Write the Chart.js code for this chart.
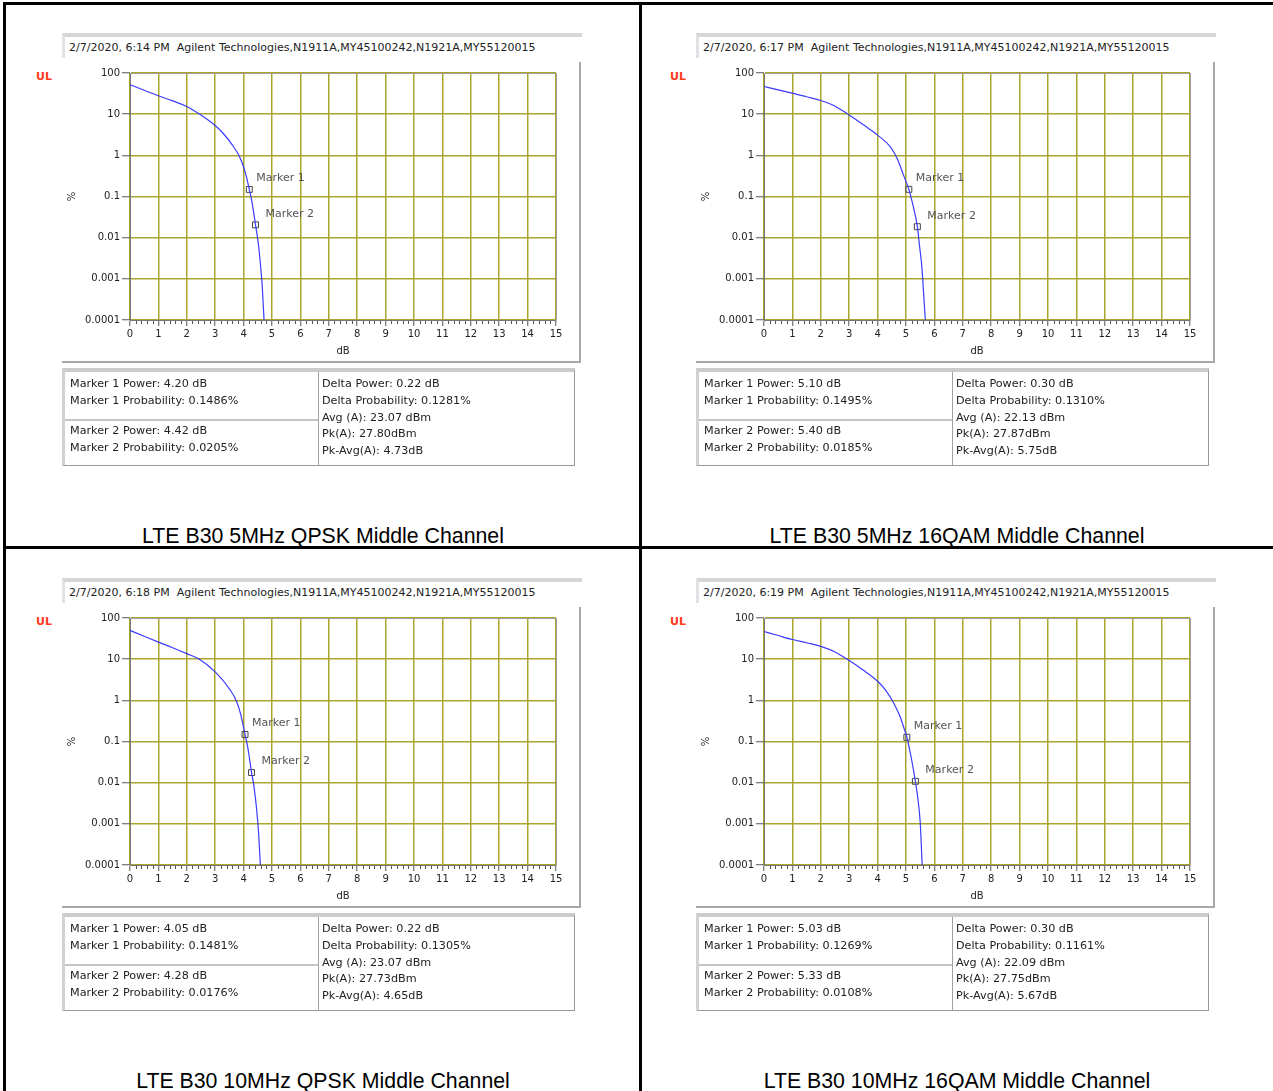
<!DOCTYPE html>
<html>
<head>
<meta charset="utf-8">
<script src="https://cdn.jsdelivr.net/npm/chart.js@4.4.0/dist/chart.umd.min.js"></script>
<style>
  body { margin: 0; width: 1273px; height: 1091px; background: #fff; position: relative; overflow: hidden; font-family: "DejaVu Sans", sans-serif; }
  .bline { position: absolute; background: #000; }
  .panel { position: absolute; width: 634px; height: 545px; }
  .panel > * { position: absolute; }
  .hdr { left: 62px; top: 33px; width: 513px; height: 21px; border-top: 4px solid #d6d6d6; border-left: 3px solid #e2e2e2; font-size: 11px; line-height: 22px; padding-left: 4px; color: #222; white-space: nowrap; }
  .ul { left: 36px; top: 70px; font-weight: bold; font-size: 11px; color: #ff3a1a; }
  .frameR { left: 579px; top: 62px; width: 2px; height: 301px; background: #a8a8a8; }
  .frameB { left: 62px; top: 361px; width: 519px; height: 2px; background: #a8a8a8; }
  .tbl { left: 62px; top: 368px; width: 513px; height: 98px; box-sizing: border-box; border-top: 4px solid #cbcbcb; border-left: 3px solid #d2d2d2; border-right: 1px solid #999; border-bottom: 1px solid #999; }
  .vdiv { left: 318px; top: 372px; width: 1px; height: 93px; background: #a0a0a0; }
  .hdiv { left: 65px; top: 419px; width: 253px; height: 2px; background: #c4c4c4; }
  .txt { font-size: 11.2px; line-height: 17px; color: #222; white-space: nowrap; }
  .cap { left: 0; width: 646px; top: 524px; text-align: center; font-family: "Liberation Sans", Arial, sans-serif; font-size: 21.3px; line-height: 24px; color: #000; }
</style>
</head>
<body>
<div class="bline" style="left:3px;top:2px;width:1270px;height:3px"></div>
<div class="bline" style="left:3px;top:2px;width:3px;height:1089px"></div>
<div class="bline" style="left:639px;top:2px;width:3px;height:1089px"></div>
<div class="bline" style="left:3px;top:546px;width:1270px;height:3px"></div>
<script>
  // Axes
  const xTicks = [0, 1, 2, 3, 4, 5, 6, 7, 8, 9, 10, 11, 12, 13, 14, 15];
  const xMinorStep = 0.2;
  const yTicks = [0.0001, 0.001, 0.01, 0.1, 1, 10, 100];
  const yTickLabels = ['0.0001', '0.001', '0.01', '0.1', '1', '10', '100'];

  // Textos de cada panel
  const captions = ['LTE B30 5MHz QPSK Middle Channel', 'LTE B30 5MHz 16QAM Middle Channel',
                    'LTE B30 10MHz QPSK Middle Channel', 'LTE B30 10MHz 16QAM Middle Channel'];
  const headerTimes = ['6:14 PM', '6:17 PM', '6:18 PM', '6:19 PM'];

  // Curvas CCDF (dB, %)
  const qpsk5Db  = [0, 0.5, 1, 1.5, 2, 2.5, 3, 3.3, 3.6, 3.85, 4.0, 4.1, 4.2, 4.3, 4.42, 4.52, 4.6, 4.66, 4.72];
  const qpsk5Pct = [52, 38, 28, 21, 15.4, 9.5, 5.3, 3.3, 1.8, 0.95, 0.52, 0.3, 0.1486, 0.07, 0.0205, 0.007, 0.002, 0.0006, 0.0001];
  const qam5Db   = [0, 0.5, 1, 1.5, 2, 2.4, 2.7, 3, 3.5, 4, 4.45, 4.7, 4.9, 5.0, 5.1, 5.25, 5.4, 5.48, 5.56, 5.62, 5.68];
  const qam5Pct  = [47, 39, 32.5, 26.5, 21.5, 17, 13, 9.5, 5.5, 3.1, 1.6, 0.8, 0.35, 0.23, 0.1495, 0.06, 0.0185, 0.006, 0.0019, 0.00045, 0.0001];
  const qpsk10Db  = [0, 0.5, 1, 1.5, 2, 2.44, 3, 3.5, 3.75, 3.9, 4.05, 4.15, 4.28, 4.35, 4.45, 4.53, 4.59];
  const qpsk10Pct = [50, 36, 26, 19, 13.6, 10, 4.9, 1.9, 0.95, 0.45, 0.1481, 0.07, 0.0176, 0.0095, 0.0026, 0.00057, 0.0001];
  const qam10Db  = [0, 0.5, 1, 1.5, 2, 2.5, 3, 3.5, 4, 4.3, 4.57, 4.8, 4.95, 5.03, 5.18, 5.33, 5.42, 5.5, 5.57];
  const qam10Pct = [47, 37.5, 30, 25, 20.5, 15, 9.3, 5.4, 2.9, 1.7, 0.85, 0.39, 0.19, 0.1269, 0.042, 0.0108, 0.004, 0.0011, 0.0001];

  // Marcadores y tabla
  const marker1Db  = [4.20, 5.10, 4.05, 5.03];
  const marker1Pct = [0.1486, 0.1495, 0.1481, 0.1269];
  const marker2Db  = [4.42, 5.40, 4.28, 5.33];
  const marker2Pct = [0.0205, 0.0185, 0.0176, 0.0108];
  const deltaPower = ['0.22', '0.30', '0.22', '0.30'];
  const deltaProb  = ['0.1281', '0.1310', '0.1305', '0.1161'];
  const avgA   = ['23.07', '22.13', '23.07', '22.09'];
  const pkA    = ['27.80', '27.87', '27.73', '27.75'];
  const pkAvgA = ['4.73', '5.75', '4.65', '5.67'];

  const curves = [[qpsk5Db, qpsk5Pct], [qam5Db, qam5Pct], [qpsk10Db, qpsk10Pct], [qam10Db, qam10Pct]];
  const offsets = [[0, 0], [634, 0], [0, 545], [634, 545]];

  const GRID = '#a9a52c';
  const TICK = '#555';

  Chart.defaults.font.family = '"DejaVu Sans", sans-serif';
  Chart.defaults.font.size = 10;
  Chart.defaults.color = '#222';

  // marco gris del área + ticks menores + etiquetas de marcador
  const ccdfExtras = {
    id: 'ccdfExtras',
    beforeDatasetsDraw(chart) {
      const { ctx, chartArea: a, scales: { x } } = chart;
      ctx.save();
      ctx.strokeStyle = '#a0a0a0';
      ctx.lineWidth = 1;
      ctx.beginPath();
      ctx.moveTo(a.left, a.top + 0.5); ctx.lineTo(a.right + 0.5, a.top + 0.5); ctx.lineTo(a.right + 0.5, a.bottom);
      ctx.stroke();
      ctx.strokeStyle = TICK;
      ctx.beginPath();
      for (let i = 1; i < 75; i++) {
        if (i % 5 === 0) continue;
        const px = Math.round(x.getPixelForValue(i * xMinorStep)) + 0.5;
        ctx.moveTo(px, a.bottom + 1); ctx.lineTo(px, a.bottom + 4);
      }
      ctx.stroke();
      ctx.restore();
    },
    afterDatasetsDraw(chart) {
      const { ctx } = chart;
      const meta = chart.getDatasetMeta(1);
      ctx.save();
      ctx.font = '11px "DejaVu Sans"';
      ctx.fillStyle = '#555';
      ctx.textBaseline = 'middle';
      meta.data.forEach((p, i) => {
        ctx.fillText('Marker ' + (i + 1), p.x + (i === 0 ? 7 : 10), p.y - 11);
      });
      ctx.restore();
    }
  };

  curves.forEach(([xs, ys], k) => {
    const [dx, dy] = offsets[k];
    const panel = document.createElement('div');
    panel.className = 'panel';
    panel.style.left = dx + 'px';
    panel.style.top = dy + 'px';
    panel.innerHTML = `
      <div class="hdr">2/7/2020, ${headerTimes[k]}&nbsp; Agilent Technologies,N1911A,MY45100242,N1921A,MY55120015</div>
      <div class="ul">UL</div>
      <canvas width="518" height="300" style="left:62px;top:60px"></canvas>
      <div class="frameR"></div><div class="frameB"></div>
      <div class="tbl"></div><div class="vdiv"></div><div class="hdiv"></div>
      <div class="txt" style="left:70px;top:375px">Marker 1 Power: ${marker1Db[k].toFixed(2)} dB</div>
      <div class="txt" style="left:70px;top:392px">Marker 1 Probability: ${marker1Pct[k].toFixed(4)}%</div>
      <div class="txt" style="left:70px;top:422px">Marker 2 Power: ${marker2Db[k].toFixed(2)} dB</div>
      <div class="txt" style="left:70px;top:439px">Marker 2 Probability: ${marker2Pct[k].toFixed(4)}%</div>
      <div class="txt" style="left:322px;top:375px">Delta Power: ${deltaPower[k]} dB</div>
      <div class="txt" style="left:322px;top:392px">Delta Probability: ${deltaProb[k]}%</div>
      <div class="txt" style="left:322px;top:409px">Avg (A): ${avgA[k]} dBm</div>
      <div class="txt" style="left:322px;top:425px">Pk(A): ${pkA[k]}dBm</div>
      <div class="txt" style="left:322px;top:442px">Pk-Avg(A): ${pkAvgA[k]}dB</div>
      <div class="cap">${captions[k]}</div>`;
    document.body.appendChild(panel);

    new Chart(panel.querySelector('canvas'), {
      type: 'line',
      data: {
        datasets: [{
          data: xs.map((v, i) => ({ x: v, y: ys[i] })),
          borderColor: '#3b3bff',
          borderWidth: 1.2,
          pointRadius: 0,
          cubicInterpolationMode: 'monotone',
          clip: false
        }, {
          data: [{ x: marker1Db[k], y: marker1Pct[k] }, { x: marker2Db[k], y: marker2Pct[k] }],
          showLine: false,
          pointStyle: 'rect',
          pointRadius: 4.2,
          borderWidth: 1,
          borderColor: '#444',
          backgroundColor: 'rgba(0,0,0,0)'
        }]
      },
      options: {
        responsive: false,
        animation: false,
        devicePixelRatio: 1,
        layout: { padding: { top: 13, right: 24, left: 0, bottom: 0 } },
        plugins: { legend: { display: false }, tooltip: { enabled: false } },
        scales: {
          x: {
            type: 'linear', min: 0, max: 15,
            afterBuildTicks: axis => { axis.ticks = xTicks.map(v => ({ value: v })); },
            afterFit: axis => { axis.height = 40; },
            ticks: { autoSkip: false, maxRotation: 0, padding: 2, color: '#222', callback: v => String(v) },
            grid: { color: GRID, lineWidth: 1.5, tickColor: TICK, tickLength: 6, tickWidth: 1 },
            border: { color: '#777', width: 1 },
            title: { display: true, text: 'dB', color: '#222', font: { size: 10 }, padding: { top: 0, bottom: 3 } }
          },
          y: {
            type: 'logarithmic', min: 0.0001, max: 100,
            afterBuildTicks: axis => { axis.ticks = yTicks.map(v => ({ value: v })); },
            afterFit: axis => { axis.width = 68; },
            ticks: { autoSkip: false, padding: 2, color: '#222', callback: v => yTickLabels[yTicks.indexOf(v)] },
            grid: { color: GRID, lineWidth: 1.5, tickColor: TICK, tickLength: 8, tickWidth: 1 },
            border: { color: '#777', width: 1 },
            title: { display: true, text: '%', color: '#222', font: { size: 10 }, padding: { top: 4, bottom: 0 } }
          }
        }
      },
      plugins: [ccdfExtras]
    });
  });
</script>
</body>
</html>
